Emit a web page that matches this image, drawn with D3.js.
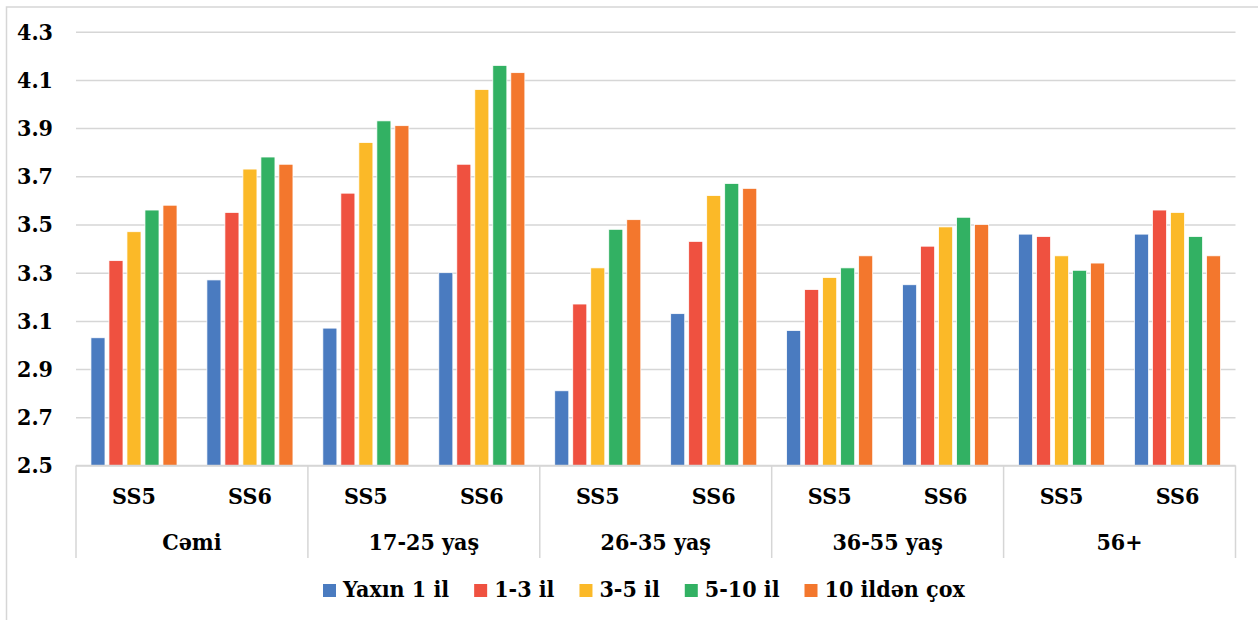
<!DOCTYPE html>
<html>
<head>
<meta charset="utf-8">
<script src="https://cdn.jsdelivr.net/npm/d3@7"></script>
<style>
  html, body { margin: 0; padding: 0; background: #fff; }
</style>
</head>
<body>
<div id="chart"></div>
<script>
const categories = ["Cəmi", "17-25 yaş", "26-35 yaş", "36-55 yaş", "56+"];
const surveys = ["SS5", "SS6"];
const seriesNames = ["Yaxın 1 il", "1-3 il", "3-5 il", "5-10 il", "10 ildən çox"];
const seriesColors = ["#4a7bc0", "#ef5140", "#fbb928", "#32b163", "#f3772d"];
const yTicks = [2.5, 2.7, 2.9, 3.1, 3.3, 3.5, 3.7, 3.9, 4.1, 4.3];

// values per series, in order Cəmi SS5, Cəmi SS6, 17-25 SS5, ...
const yaxin1 = [3.03, 3.27, 3.07, 3.30, 2.81, 3.13, 3.06, 3.25, 3.46, 3.46];
const il1to3 = [3.35, 3.55, 3.63, 3.75, 3.17, 3.43, 3.23, 3.41, 3.45, 3.56];
const il3to5 = [3.47, 3.73, 3.84, 4.06, 3.32, 3.62, 3.28, 3.49, 3.37, 3.55];
const il5to10 = [3.56, 3.78, 3.93, 4.16, 3.48, 3.67, 3.32, 3.53, 3.31, 3.45];
const il10plus = [3.58, 3.75, 3.91, 4.13, 3.52, 3.65, 3.37, 3.50, 3.34, 3.37];
const seriesValues = [yaxin1, il1to3, il3to5, il5to10, il10plus];

const width = 1258, height = 620;
const plot = { left: 76, right: 1235.5, top: 31.7, bottom: 465.5 };
const gridColor = "#d6d6d6";
const fontFamily = "'DejaVu Serif Condensed', 'DejaVu Serif', serif";

const svg = d3.select("#chart").append("svg")
    .attr("width", width)
    .attr("height", height);

// outer chart border
svg.append("rect")
    .attr("x", 6.5).attr("y", 7)
    .attr("width", 1400).attr("height", 800)
    .attr("fill", "none")
    .attr("stroke", gridColor)
    .attr("stroke-width", 1.5);

const groups = [];
categories.forEach(c => surveys.forEach(s => groups.push(c + "|" + s)));

const x0 = d3.scaleBand().domain(groups).range([plot.left, plot.right]);
const x1 = d3.scaleBand().domain(seriesNames)
    .range([0, x0.bandwidth()])
    .paddingInner(0.22)
    .paddingOuter(0.83);
const y = d3.scaleLinear().domain([2.5, 4.3]).range([plot.bottom, plot.top]);

function label(sel) {
    sel.attr("font-family", fontFamily)
        .attr("font-weight", "bold")
        .attr("font-stretch", "condensed")
        .attr("font-size", 23)
        .attr("fill", "#000");
}

// y axis with gridlines
const yAxis = d3.axisLeft(y)
    .tickValues(yTicks)
    .tickFormat(d3.format(".1f"))
    .tickSize(-(plot.right - plot.left))
    .tickPadding(23);

const yG = svg.append("g")
    .attr("transform", `translate(${plot.left},0)`)
    .call(yAxis)
    .attr("font-family", null).attr("font-size", null);
yG.select(".domain").remove();
yG.selectAll(".tick line")
    .attr("stroke", gridColor)
    .attr("stroke-width", 1.5);
yG.selectAll(".tick text").call(label);

// bars
const barGroups = svg.append("g")
    .selectAll("g")
    .data(groups)
    .enter()
    .append("g")
    .attr("transform", d => `translate(${x0(d)},0)`);

barGroups.selectAll("rect")
    .data((g, gi) => seriesNames.map((name, si) => ({ name, si, value: seriesValues[si][gi] })))
    .enter()
    .append("rect")
    .attr("x", d => x1(d.name))
    .attr("width", x1.bandwidth())
    .attr("y", d => y(d.value))
    .attr("height", d => y(2.5) - y(d.value))
    .attr("fill", d => seriesColors[d.si])
    .attr("stroke", "#fff")
    .attr("stroke-width", 0.75);

// bottom axis line and category box
svg.append("line")
    .attr("x1", plot.left).attr("x2", plot.right)
    .attr("y1", plot.bottom).attr("y2", plot.bottom)
    .attr("stroke", gridColor)
    .attr("stroke-width", 1.5);

const boxBottom = 558;
const boundaries = categories.map(c => x0(c + "|" + surveys[0])).concat([plot.right]);
svg.append("g")
    .selectAll("line")
    .data(boundaries)
    .enter()
    .append("line")
    .attr("x1", d => d).attr("x2", d => d)
    .attr("y1", plot.bottom).attr("y2", boxBottom)
    .attr("stroke", gridColor)
    .attr("stroke-width", 1.5);

svg.append("g")
    .selectAll("text")
    .data(groups)
    .enter()
    .append("text")
    .attr("x", d => x0(d) + x0.bandwidth() / 2)
    .attr("y", 504)
    .attr("text-anchor", "middle")
    .call(label)
    .text(d => d.split("|")[1]);

svg.append("g")
    .selectAll("text")
    .data(categories)
    .enter()
    .append("text")
    .attr("x", c => x0(c + "|" + surveys[0]) + x0.bandwidth())
    .attr("y", 550)
    .attr("text-anchor", "middle")
    .call(label)
    .text(c => c);

// legend
const legend = svg.append("g");
let lx = 323;
seriesNames.forEach((name, i) => {
    legend.append("rect")
        .attr("x", lx).attr("y", 584)
        .attr("width", 13).attr("height", 13)
        .attr("fill", seriesColors[i]);
    const t = legend.append("text")
        .attr("x", lx + 20)
        .attr("y", 597)
        .call(label)
        .text(name);
    lx += 20 + t.node().getComputedTextLength() + 25;
});
</script>
</body>
</html>
